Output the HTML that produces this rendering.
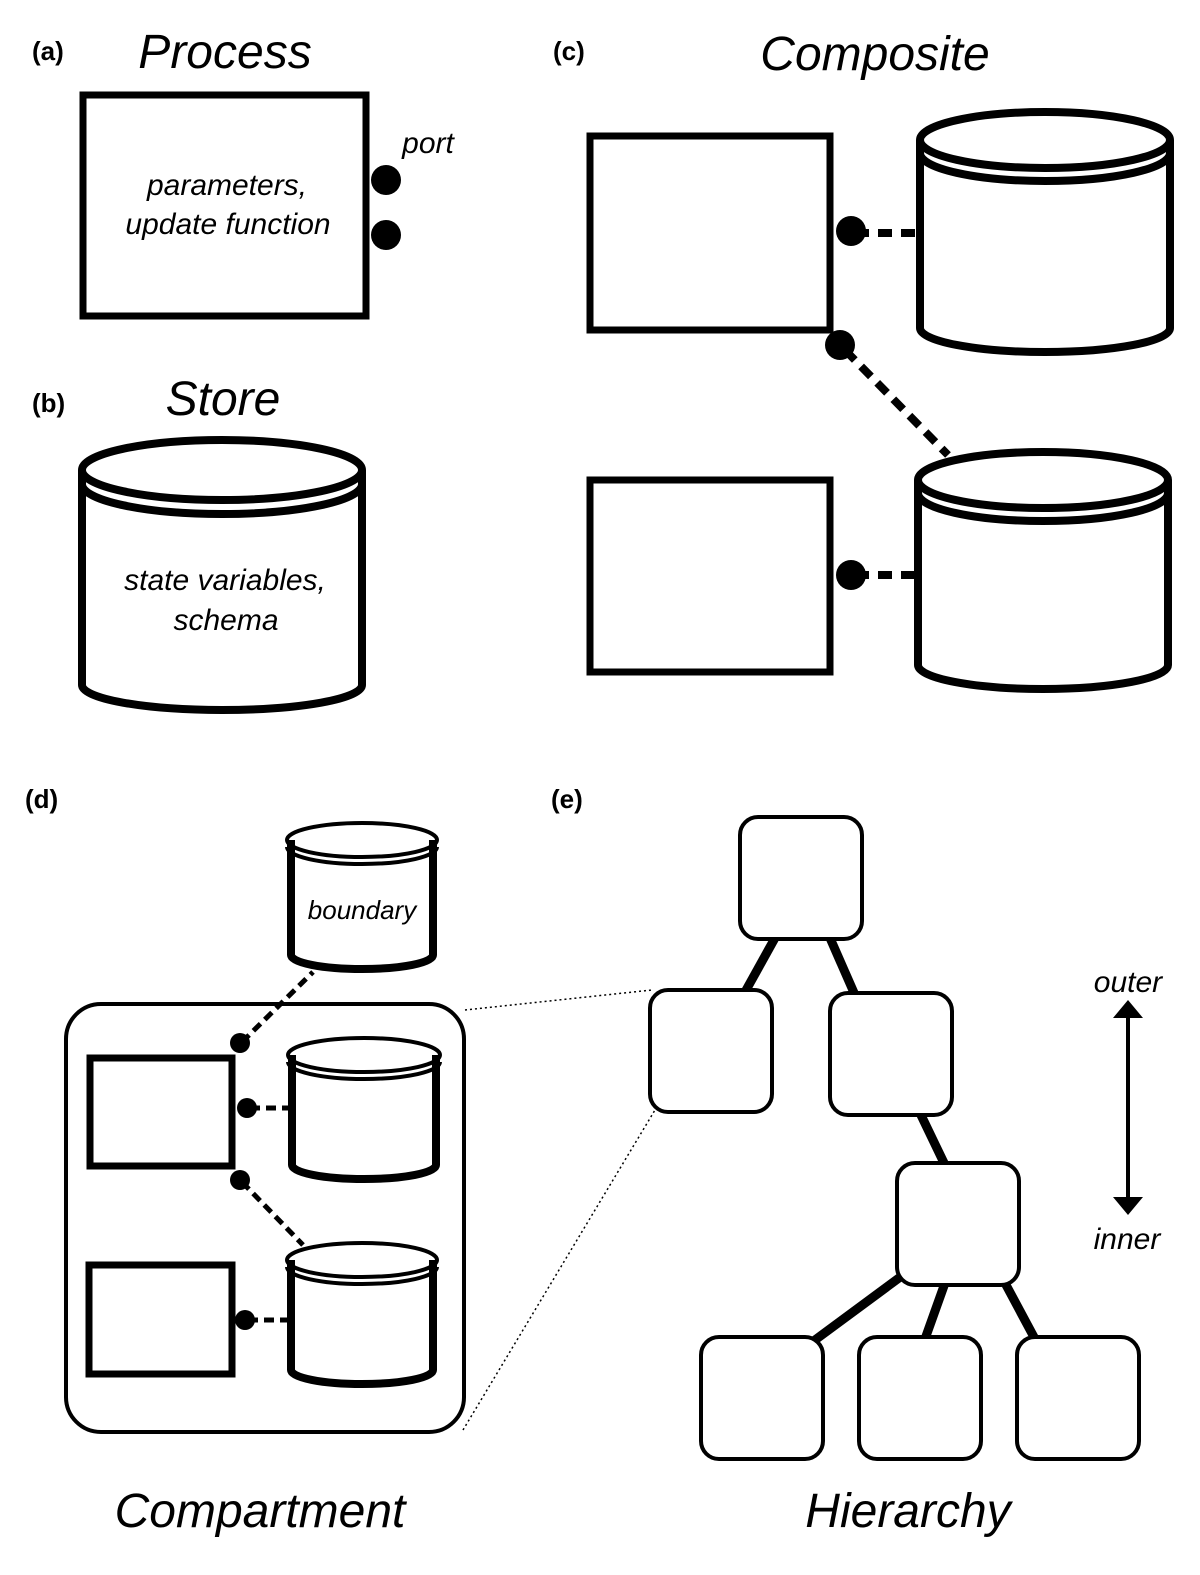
<!DOCTYPE html>
<html><head><style>html,body{margin:0;padding:0;background:#fff}svg{display:block}</style></head><body>
<svg width="1200" height="1575" viewBox="0 0 1200 1575" xmlns="http://www.w3.org/2000/svg" font-family="Liberation Sans, sans-serif">
<g fill="none" stroke="#000" stroke-linecap="butt">
<rect x="83" y="95" width="283" height="221" stroke-width="7" fill="#fff"/>
<g stroke-width="8"><ellipse cx="222" cy="470" rx="140" ry="30"/><path d="M82 484 A140 30 0 0 0 362 484"/><path d="M82 470 V685 A140 25 0 0 0 362 685 V470"/></g>
<rect x="590" y="136" width="240" height="194" stroke-width="7"/>
<rect x="590" y="480" width="240" height="192" stroke-width="7"/>
<g stroke-width="8"><ellipse cx="1045" cy="140" rx="125" ry="28"/><path d="M920 153 A125 28 0 0 0 1170 153"/><path d="M920 140 V328 A125 24 0 0 0 1170 328 V140"/></g>
<g stroke-width="8"><ellipse cx="1043" cy="480" rx="125" ry="28"/><path d="M918 493 A125 28 0 0 0 1168 493"/><path d="M918 480 V665 A125 24 0 0 0 1168 665 V480"/></g>
<g stroke-width="8" stroke-dasharray="14,9"><path d="M855 233 H920"/><path d="M845 350 L948 455"/><path d="M855 575 H917"/></g>
<rect x="66" y="1004" width="398" height="428" rx="35" stroke-width="4"/>
<rect x="90" y="1058" width="142" height="108" stroke-width="7"/>
<rect x="89" y="1265" width="143" height="109" stroke-width="7"/>
<g stroke-width="4"><ellipse cx="362" cy="840" rx="75" ry="17"/><path d="M287 847 A75 17 0 0 0 437 847"/></g>
<path d="M291 840 V955 A71 14 0 0 0 433 955 V840" stroke-width="8"/>
<g stroke-width="4"><ellipse cx="364" cy="1055" rx="76" ry="17"/><path d="M288 1062 A76 17 0 0 0 440 1062"/></g>
<path d="M292 1055 V1165 A72 14 0 0 0 436 1165 V1055" stroke-width="8"/>
<g stroke-width="4"><ellipse cx="362" cy="1260" rx="75" ry="17"/><path d="M287 1267 A75 17 0 0 0 437 1267"/></g>
<path d="M291 1260 V1370 A71 14 0 0 0 433 1370 V1260" stroke-width="8"/>
<g stroke-width="5" stroke-dasharray="10,6"><path d="M242 1042 L313 972"/><path d="M250 1108 H290"/><path d="M242 1182 L303 1245"/><path d="M248 1320 H289"/></g>
<g stroke-width="1.5" stroke-dasharray="2,3"><path d="M465 1010 L652 990"/><path d="M463 1430 L655 1110"/></g>
<g stroke-width="9"><path d="M775 938 L745 992"/><path d="M830 938 L855 995"/><path d="M920 1113 L945 1165"/><path d="M903 1275 L815 1340"/><path d="M945 1283 L925 1339"/><path d="M1005 1283 L1035 1339"/></g>
<g stroke-width="4" fill="#fff"><rect x="740" y="817" width="122" height="122" rx="18"/><rect x="650" y="990" width="122" height="122" rx="18"/><rect x="830" y="993" width="122" height="122" rx="18"/><rect x="897" y="1163" width="122" height="122" rx="18"/><rect x="701" y="1337" width="122" height="122" rx="18"/><rect x="859" y="1337" width="122" height="122" rx="18"/><rect x="1017" y="1337" width="122" height="122" rx="18"/></g>
<path d="M1128 1015 V1200" stroke-width="4"/>
</g>
<g fill="#000">
<circle cx="386" cy="180" r="15"/><circle cx="386" cy="235" r="15"/>
<circle cx="851" cy="231" r="15"/><circle cx="840" cy="345" r="15"/><circle cx="851" cy="575" r="15"/>
<circle cx="240" cy="1043" r="10"/><circle cx="247" cy="1108" r="10"/><circle cx="240" cy="1180" r="10"/><circle cx="245" cy="1320" r="10"/>
<path d="M1113 1018 L1128 1000 L1143 1018 Z"/><path d="M1113 1197 L1128 1215 L1143 1197 Z"/>
</g>
<g font-weight="bold" font-size="26"><text x="32" y="60">(a)</text><text x="32" y="412">(b)</text><text x="553" y="60">(c)</text><text x="25" y="808">(d)</text><text x="551" y="808">(e)</text></g>
<g font-style="italic" font-size="48" text-anchor="middle"><text x="225" y="68">Process</text><text x="223" y="415">Store</text><text x="875" y="70">Composite</text><text x="260" y="1527">Compartment</text><text x="908" y="1527">Hierarchy</text></g>
<g font-style="italic" font-size="30" text-anchor="middle"><text x="428" y="153">port</text><text x="227" y="195">parameters,</text><text x="228" y="234">update function</text><text x="225" y="590">state variables,</text><text x="226" y="630">schema</text><text x="1128" y="992">outer</text><text x="1127" y="1249">inner</text></g>
<text x="362" y="919" font-style="italic" font-size="26" text-anchor="middle">boundary</text>
</svg>
</body></html>
